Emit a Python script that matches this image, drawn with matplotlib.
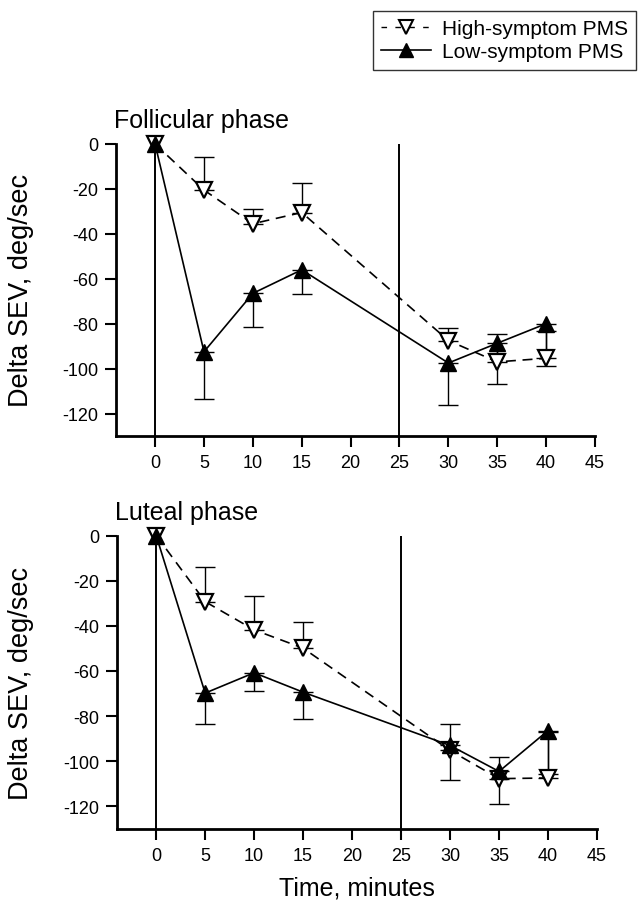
import numpy as np
import matplotlib
matplotlib.use("Agg")
import matplotlib.pyplot as plt
from matplotlib.lines import Line2D

plt.rcParams['font.family'] = ['Liberation Sans', 'DejaVu Sans']
plt.rcParams['axes.unicode_minus'] = False

# ---- data ----
time = [0, 5, 10, 15, 30, 35, 40]

fol_high = [0, -20.5, -35.5, -30.5, -87.5, -97.0, -95.4]
fol_high_err = [0, 14.5, 6.5, 13.0, 5.5, 12.6, 12.2]      # upper
fol_low = [0, -92.5, -66.5, -56.0, -97.5, -88.7, -80.0]
fol_low_err = [0, 21.0, 15.0, 11.0, 18.5, 18.3, 18.7]     # lower

lut_high = [0, -29.3, -41.8, -49.9, -95.2, -107.7, -107.4]
lut_high_err = [0, 15.3, 14.8, 11.5, 11.5, 9.8, 20.4]     # upper
lut_low = [0, -69.8, -60.8, -69.4, -93.0, -104.5, -86.4]
lut_low_err = [0, 13.5, 8.2, 11.8, 15.5, 14.5, 19.1]      # lower

titles = ["Follicular phase", "Luteal phase"]
series_names = ["High-symptom PMS", "Low-symptom PMS"]
xticks = [0, 5, 10, 15, 20, 25, 30, 35, 40, 45]
yticks = [0, -20, -40, -60, -80, -100, -120]
vlines_at = [0, 25]

W, H = 642, 903
fig = plt.figure(figsize=(W / 100, H / 100), dpi=100)
ax1 = fig.add_axes([116 / W, 1 - 437 / H, (595 - 116) / W, (437 - 145) / H])
ax2 = fig.add_axes([117 / W, 1 - 830 / H, (597 - 117) / W, (830 - 536.5) / H])

ms = 11
cap = 7


def panel(ax, high, high_err, low, low_err, title):
    t = np.array(time, float)
    h = np.array(high); he = np.array(high_err)
    l = np.array(low); le = np.array(low_err)
    for xv in vlines_at:
        ax.axvline(xv, color='black', lw=1.4, zorder=1)
    mh = he > 0
    ax.errorbar(t[mh], h[mh], yerr=[np.zeros(mh.sum()), he[mh]], fmt='none',
                ecolor='black', elinewidth=1.0, capsize=cap, capthick=1.0, zorder=2)
    ml = le > 0
    ax.errorbar(t[ml], l[ml], yerr=[le[ml], np.zeros(ml.sum())], fmt='none',
                ecolor='black', elinewidth=1.0, capsize=cap, capthick=1.0, zorder=2)
    ax.plot(t, h, color='black', lw=1.2, ls=(0, (6, 4)), marker='v', ms=ms,
            mfc='white', mec='black', mew=1.6, clip_on=False, zorder=3)
    ax.plot(t, l, color='black', lw=1.2, ls='-', marker='^', ms=ms,
            mfc='black', mec='black', mew=1.0, clip_on=False, zorder=4)
    ax.set_xlim(-4, 45)
    ax.set_ylim(-130, 0)
    ax.set_xticks(xticks)
    ax.set_yticks(yticks)
    ax.tick_params(axis='both', direction='out', length=8, width=1.5,
                   labelsize=13, pad=5)
    for s in ['top', 'right']:
        ax.spines[s].set_visible(False)
    for s in ['left', 'bottom']:
        ax.spines[s].set_linewidth(2.0)
    ax.set_title(title, loc='left', fontsize=18, pad=12, x=-0.005)
    ax.set_ylabel("Delta SEV, deg/sec", fontsize=19.5)
    ax.yaxis.set_label_coords(-0.172, 0.5)


panel(ax1, fol_high, fol_high_err, fol_low, fol_low_err, titles[0])
panel(ax2, lut_high, lut_high_err, lut_low, lut_low_err, titles[1])
ax2.set_xlabel("Time, minutes", fontsize=18, labelpad=8)

handles = [
    Line2D([], [], color='black', lw=1.0, ls=(0, (4, 6)), marker='v', ms=10,
           mfc='white', mec='black', mew=1.5),
    Line2D([], [], color='black', lw=1.2, ls='-', marker='^', ms=10,
           mfc='black', mec='black'),
]
leg = fig.legend(handles, series_names, loc='upper right',
                 bbox_to_anchor=(636 / W, 1 - 12 / H), fontsize=15,
                 frameon=True, fancybox=False, handlelength=2.4,
                 handletextpad=0.5, borderpad=0.4, labelspacing=0.2,
                 borderaxespad=0)
leg.get_frame().set_edgecolor('black')
leg.get_frame().set_linewidth(1.0)

fig.savefig("out.png", dpi=100)
